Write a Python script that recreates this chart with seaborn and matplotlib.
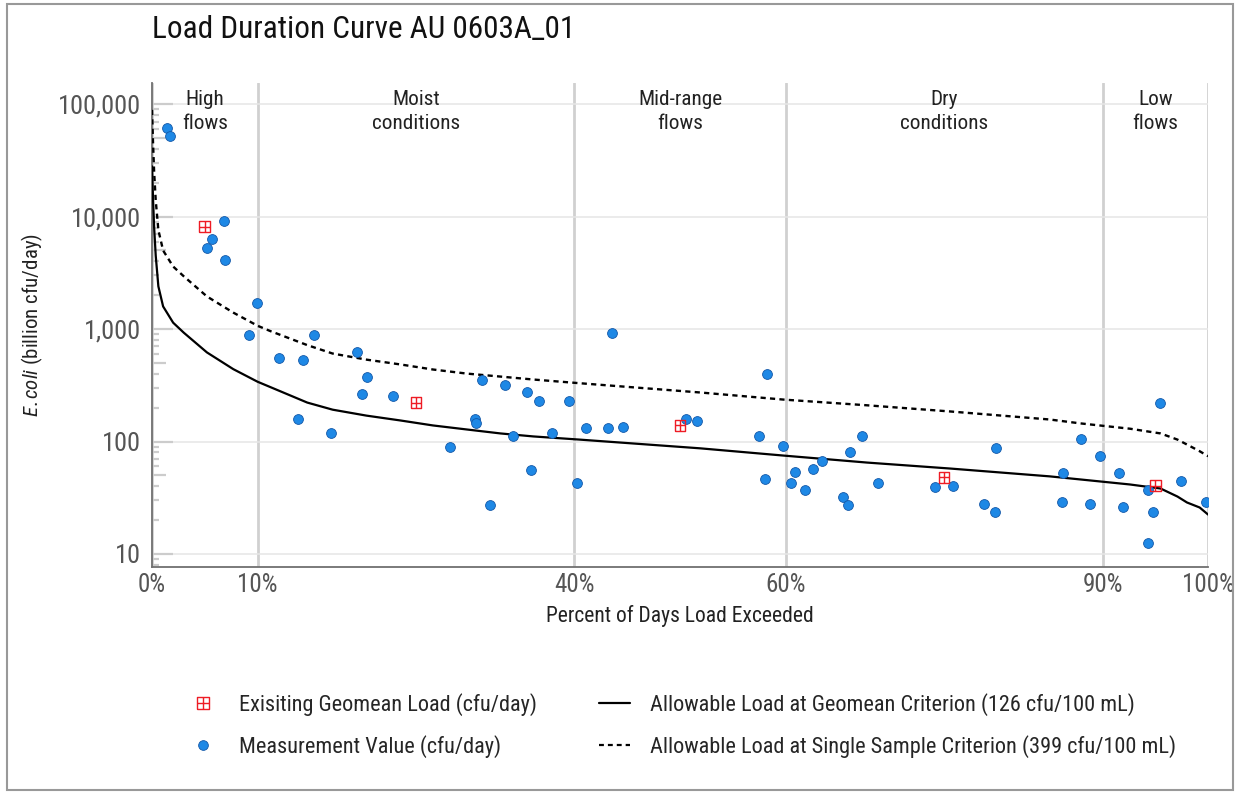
import numpy as np
import pandas as pd
import matplotlib
matplotlib.use('Agg')
import matplotlib.pyplot as plt
import matplotlib.ticker as mticker
from matplotlib.path import Path
from matplotlib.lines import Line2D
from matplotlib.patches import Rectangle
from matplotlib import font_manager
import seaborn as sns

# curve of allowable loads (percent of days exceeded vs billion cfu/day)
curve_pct = [0, 0.1, 0.2, 0.35, 0.6, 1.05, 2.0, 3.0, 5.2, 7.7, 10, 11.2, 14.7, 17.1, 20.3,
             23.5, 26.6, 29.8, 33, 36.1, 40.5, 51.9, 59.8, 67.7, 75.6, 85, 87.9, 92.6,
             95.5, 97.1, 98.0, 99.2, 100]
geomean_allow = [28000, 14000, 8000, 4500, 2400, 1590, 1140, 930, 620, 440, 340, 305, 222, 192, 170,
                 154, 139, 128, 118, 111, 104, 87, 75, 65, 57.5, 49, 46, 41.5,
                 38.2, 32.4, 28.7, 25.9, 22.4]
single_allow = [89000, 44000, 25000, 14000, 7600, 5000, 3600, 2950, 1950, 1400, 1070, 960, 720, 606, 535,
                485, 437, 402, 378, 356, 330, 273, 236, 210, 185, 157, 145, 130,
                118, 104, 94, 82, 74]

# measured loads
meas_pct = [1.42, 1.70, 6.82, 5.68, 5.21, 6.91, 9.94, 9.19, 12.03, 15.34, 14.3, 13.83, 16.95,
            19.41, 20.36, 19.89, 22.82, 28.22, 30.59, 30.68, 31.25, 32.0, 33.43, 34.19, 35.5,
            35.9, 36.65, 37.88, 39.49, 40.25, 41.1, 43.56, 43.18, 44.6, 50.57, 51.6, 57.5,
            58.24, 58.05, 59.75, 60.5, 60.9, 61.84, 62.6, 63.45, 65.4, 65.9, 66.1, 67.2, 68.75,
            74.1, 75.8, 78.8, 79.8, 79.9, 86.3, 86.2, 87.97, 88.8, 89.8, 91.6, 91.9, 94.3,
            94.3, 94.8, 95.45, 97.4, 99.8]
meas_load = [61800, 52500, 9200, 6370, 5300, 4150, 1720, 893, 558, 893, 536, 157, 118,
             631, 378, 267, 256, 90, 157, 145, 356, 27.5, 321, 111, 278,
             56, 227, 120, 231, 43, 131, 931, 133, 136, 160, 151, 111,
             402, 46, 92, 43, 54, 36.7, 57.5, 66.5, 31.8, 27.5, 81.5, 113, 43,
             39.8, 40.6, 28.1, 23.4, 86.7, 53, 28.7, 106, 28, 73.6, 53, 26.4, 12.4,
             37.4, 23.4, 218, 45, 28.7]

# existing geomean loads by flow zone
geo_pct = [5, 25, 50, 75, 95]
geo_load = [8150, 222, 139, 47.9, 40.6]

zone_names = ['High\nflows', 'Moist\nconditions', 'Mid-range\nflows', 'Dry\nconditions', 'Low\nflows']
zone_mid = [5, 25, 50, 75, 95]
zone_edges = [0, 10, 40, 60, 90, 100]
x_labels = ['0%', '10%', '40%', '60%', '90%', '100%']

sns.set_style('white')
installed = {f.name for f in font_manager.fontManager.ttflist}
fam = 'Roboto Condensed' if 'Roboto Condensed' in installed else 'Roboto'
plt.rcParams['font.family'] = [fam, 'DejaVu Sans']
plt.rcParams['mathtext.fontset'] = 'custom'
plt.rcParams['mathtext.it'] = fam + ':italic'
plt.rcParams['mathtext.rm'] = fam

curve_df = pd.DataFrame({'pct': curve_pct, 'geo': geomean_allow, 'single': single_allow})
meas_df = pd.DataFrame({'pct': meas_pct, 'load': meas_load})
geo_df = pd.DataFrame({'pct': geo_pct, 'load': geo_load})

box_plus = Path([(-1, -1), (1, -1), (1, 1), (-1, 1), (-1, -1), (0, -1), (0, 1), (-1, 0), (1, 0)],
                [Path.MOVETO, Path.LINETO, Path.LINETO, Path.LINETO, Path.LINETO,
                 Path.MOVETO, Path.LINETO, Path.MOVETO, Path.LINETO])

blue = '#1e88e5'
red = '#ee1c25'

fig = plt.figure(figsize=(12.41, 7.93), dpi=100)
ax = fig.add_axes([0.1225, 0.285, 0.851, 0.6105])

sns.lineplot(data=curve_df, x='pct', y='single', ax=ax, color='black', lw=1.7,
             estimator=None, sort=False, dashes=False, linestyle=(0, (2.2, 1.8)), zorder=3)
sns.lineplot(data=curve_df, x='pct', y='geo', ax=ax, color='black', lw=1.6,
             estimator=None, sort=False, zorder=3)
sns.scatterplot(data=meas_df, x='pct', y='load', ax=ax, color=blue, s=50,
                edgecolor='#1458a8', linewidth=0.6, zorder=4)
sns.scatterplot(data=geo_df, x='pct', y='load', ax=ax, marker=box_plus, s=60,
                facecolor='none', edgecolor=red, linewidth=1.0, zorder=5)

ax.set_yscale('log')
ax.set_ylim(7.66, 154700)
ax.set_xlim(0, 100)
ax.set_xticks(zone_edges)
ax.set_xticklabels(x_labels)
ax.yaxis.set_major_locator(mticker.FixedLocator([10, 100, 1000, 10000, 100000]))
ax.yaxis.set_major_formatter(mticker.StrMethodFormatter('{x:,.0f}'))
minor_pos = [m * 10 ** e for e in range(0, 6) for m in (2, 3, 4, 6, 7, 8, 9)]
ax.yaxis.set_minor_locator(mticker.FixedLocator(minor_pos))
ax.yaxis.set_minor_formatter(mticker.NullFormatter())

ax.tick_params(axis='y', which='both', left=True)
ax.tick_params(axis='y', which='major', direction='in', length=15, width=1.6, color='#cccccc',
               labelsize=19, labelcolor='#555555', pad=8)
ax.tick_params(axis='y', which='minor', direction='in', length=5, width=1.6, color='#cccccc')
ax.tick_params(axis='x', which='major', length=0, labelsize=18, labelcolor='#555555', pad=4)

# the 5x ticks are a bit longer
sec = ax.secondary_yaxis('left')
sec.set_yscale('log')
sec.yaxis.set_major_locator(mticker.FixedLocator([50, 500, 5000, 50000]))
sec.yaxis.set_major_formatter(mticker.NullFormatter())
sec.yaxis.set_minor_locator(mticker.NullLocator())
sec.tick_params(axis='y', direction='in', length=10, width=1.6, color='#cccccc')
sec.spines['left'].set_visible(False)

ax.grid(axis='y', which='major', color='#e6e6e6', lw=1.1)
ax.grid(axis='x', which='major', color='#d0d0d0', lw=2.0)
ax.set_axisbelow(True)

for s in ['top', 'right']:
    ax.spines[s].set_visible(False)
for s in ['left', 'bottom']:
    ax.spines[s].set_color('#707070')
    ax.spines[s].set_linewidth(1.3)

for name, mid in zip(zone_names, zone_mid):
    ax.text(mid, 0.985, name, transform=ax.get_xaxis_transform(), ha='center', va='top',
            fontsize=15.3, color='#222222', linespacing=1.32)

ax.set_xlabel('Percent of Days Load Exceeded', fontsize=15.5, color='#222222', labelpad=6)
ax.set_ylabel(r'$\it{E. coli}$ (billion cfu/day)', fontsize=15, color='#222222', labelpad=9)

fig.text(0.1225, 1 - 30 / 793, 'Load Duration Curve AU 0603A_01', fontsize=22.5,
         color='#111111', ha='left', va='center')

handles = [
    Line2D([], [], ls='none', marker=box_plus, ms=8, mfc='none', mec=red, mew=1.0),
    Line2D([], [], ls='none', marker='o', ms=7, mfc=blue, mec='#1458a8', mew=0.6),
    Line2D([], [], color='black', lw=1.6),
    Line2D([], [], color='black', lw=1.6, ls=(0, (2.2, 1.8))),
]
labels = ['Exisiting Geomean Load (cfu/day)', 'Measurement Value (cfu/day)',
          'Allowable Load at Geomean Criterion (126 cfu/100 mL)',
          'Allowable Load at Single Sample Criterion (399 cfu/100 mL)']
fig.legend(handles, labels, ncol=2, frameon=False, fontsize=16,
           loc='center', bbox_to_anchor=(0.5495, 1 - 725.5 / 793),
           handlelength=1.4, handletextpad=0.9, columnspacing=2.8, labelspacing=0.85,
           borderpad=0, borderaxespad=0)

fig.patches.append(Rectangle((7 / 1241, 3 / 793), 1226 / 1241, 786 / 793, transform=fig.transFigure,
                             fill=False, edgecolor='#999999', lw=1.5))

fig.savefig('out.png', dpi=100)
